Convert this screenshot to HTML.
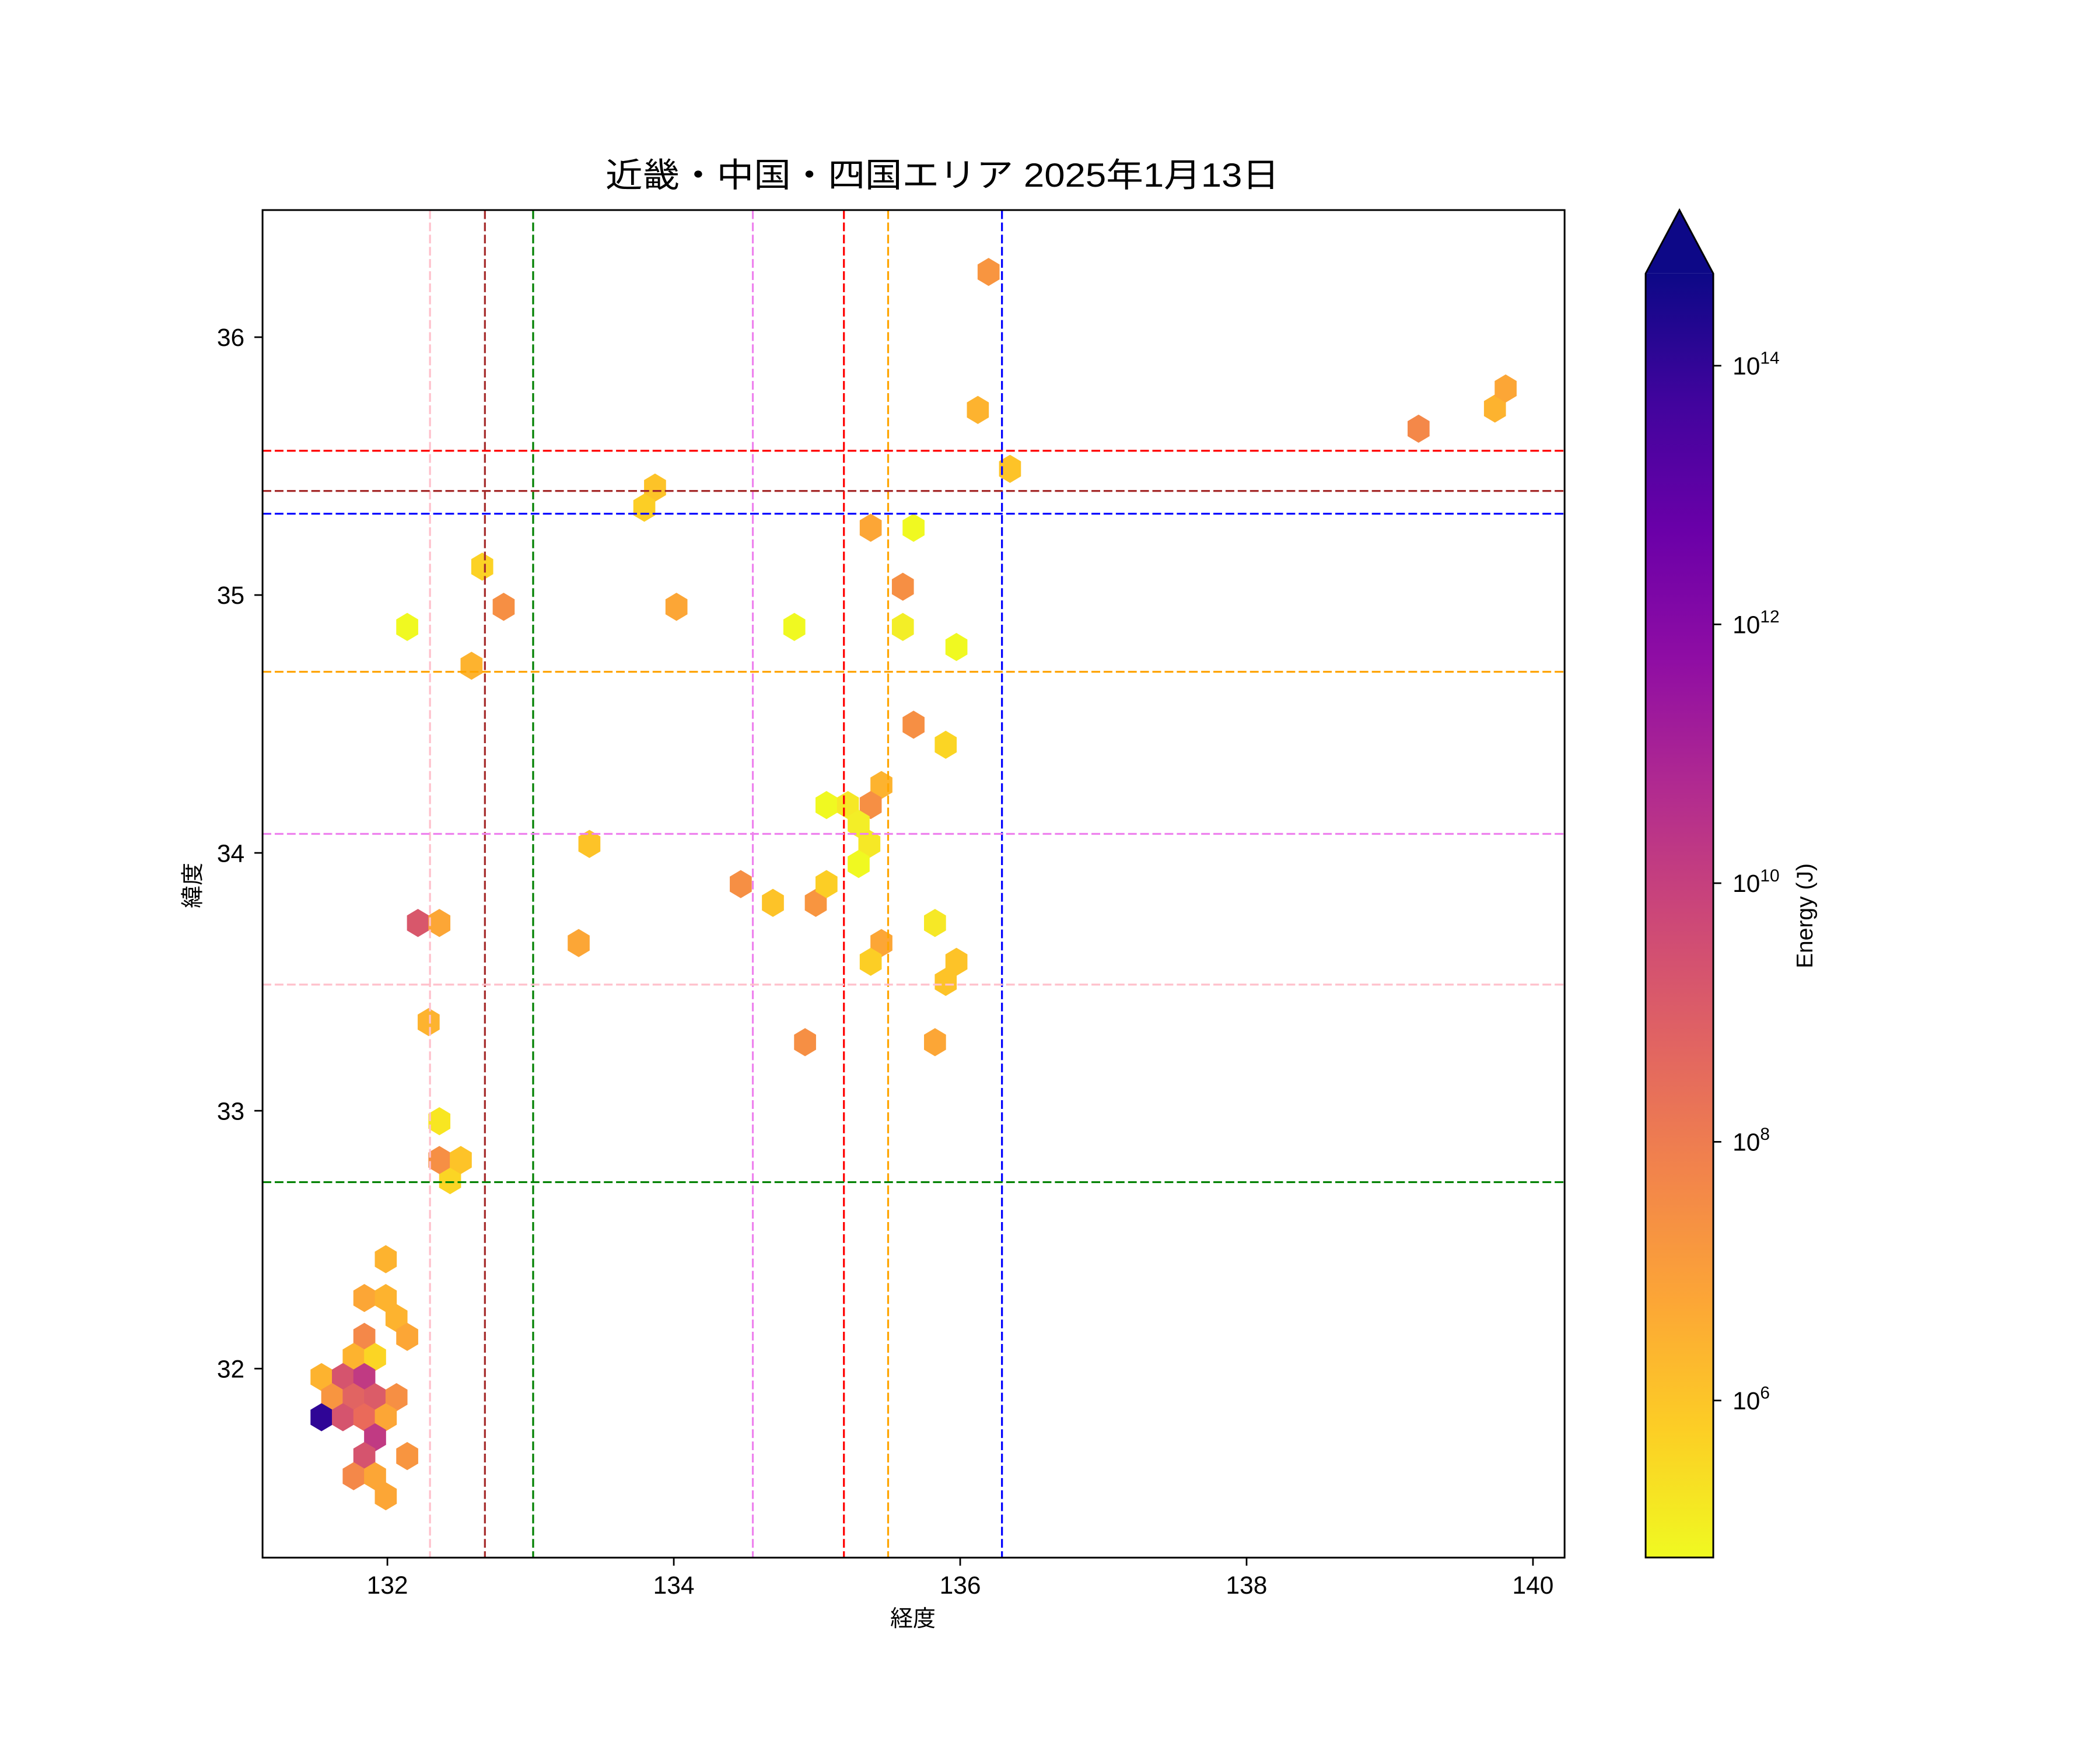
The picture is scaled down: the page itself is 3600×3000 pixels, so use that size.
<!DOCTYPE html>
<html><head><meta charset="utf-8"><style>html,body{margin:0;padding:0;background:#fff}svg{display:block}</style></head>
<body>
<svg xmlns="http://www.w3.org/2000/svg" xmlns:xlink="http://www.w3.org/1999/xlink" width="3600" height="3000" viewBox="0 0 1567.7 1306.4">
<defs>
<path id="h" d="M0,-10.5 L8.2,-5.6 L8.2,5.6 L0,10.5 L-8.2,5.6 L-8.2,-5.6 Z"/>
<linearGradient id="cb" x1="0" y1="1" x2="0" y2="0">
<stop offset="0" stop-color="#f0f921"/><stop offset="0.1" stop-color="#fcce25"/><stop offset="0.2" stop-color="#fca636"/><stop offset="0.3" stop-color="#f2844b"/><stop offset="0.4" stop-color="#e16462"/><stop offset="0.5" stop-color="#cc4778"/><stop offset="0.6" stop-color="#b12a90"/><stop offset="0.7" stop-color="#8f0da4"/><stop offset="0.8" stop-color="#6a00a8"/><stop offset="0.9" stop-color="#41049d"/><stop offset="1" stop-color="#0d0887"/>
</linearGradient>
</defs>
<rect width="1567.7" height="1306.4" fill="#fff"/>
<g font-family="Liberation Sans, Noto Sans CJK JP, sans-serif">
<text x="452" y="139.4" font-size="25" textLength="503" lengthAdjust="spacingAndGlyphs">近畿・中国・四国エリア 2025年1月13日</text>
</g>
<!-- hexes -->
<g>
<use xlink:href="#h" x="738" y="203" fill="#f89540"/>
<use xlink:href="#h" x="730" y="306" fill="#fdb32f"/>
<use xlink:href="#h" x="754" y="350" fill="#fdc328"/>
<use xlink:href="#h" x="1059" y="320" fill="#f48849"/>
<use xlink:href="#h" x="1116" y="305" fill="#fdb32f"/>
<use xlink:href="#h" x="1124" y="290" fill="#fca636"/>
<use xlink:href="#h" x="489" y="364" fill="#fdc328"/>
<use xlink:href="#h" x="481" y="379" fill="#fcce25"/>
<use xlink:href="#h" x="360" y="423" fill="#fcd225"/>
<use xlink:href="#h" x="376" y="453" fill="#f68f44"/>
<use xlink:href="#h" x="304" y="468" fill="#f0f921"/>
<use xlink:href="#h" x="352" y="497" fill="#fdb32f"/>
<use xlink:href="#h" x="505" y="453" fill="#fca636"/>
<use xlink:href="#h" x="650" y="394" fill="#fca636"/>
<use xlink:href="#h" x="682" y="394" fill="#f0f921"/>
<use xlink:href="#h" x="674" y="438" fill="#f68f44"/>
<use xlink:href="#h" x="674" y="468" fill="#f3ee27"/>
<use xlink:href="#h" x="714" y="483" fill="#f0f921"/>
<use xlink:href="#h" x="682" y="541" fill="#f68f44"/>
<use xlink:href="#h" x="706" y="556" fill="#fbd524"/>
<use xlink:href="#h" x="593" y="468" fill="#f0f921"/>
<use xlink:href="#h" x="658" y="586" fill="#fdb32f"/>
<use xlink:href="#h" x="617" y="601" fill="#f0f921"/>
<use xlink:href="#h" x="633" y="601" fill="#f6e826"/>
<use xlink:href="#h" x="650" y="601" fill="#f68f44"/>
<use xlink:href="#h" x="641" y="615" fill="#f3ee27"/>
<use xlink:href="#h" x="649" y="630" fill="#f6e826"/>
<use xlink:href="#h" x="641" y="645" fill="#f0f921"/>
<use xlink:href="#h" x="440" y="630" fill="#fdc328"/>
<use xlink:href="#h" x="553" y="660" fill="#f68f44"/>
<use xlink:href="#h" x="577" y="674" fill="#fdc328"/>
<use xlink:href="#h" x="609" y="674" fill="#f89540"/>
<use xlink:href="#h" x="617" y="660" fill="#fcce25"/>
<use xlink:href="#h" x="698" y="689" fill="#f6e826"/>
<use xlink:href="#h" x="714" y="718" fill="#fdc328"/>
<use xlink:href="#h" x="706" y="733" fill="#fdc328"/>
<use xlink:href="#h" x="658" y="704" fill="#fca636"/>
<use xlink:href="#h" x="650" y="718" fill="#fcce25"/>
<use xlink:href="#h" x="432" y="704" fill="#fca636"/>
<use xlink:href="#h" x="312" y="689" fill="#d8576b"/>
<use xlink:href="#h" x="328" y="689" fill="#fca636"/>
<use xlink:href="#h" x="320" y="763" fill="#fdb32f"/>
<use xlink:href="#h" x="601" y="778" fill="#f68f44"/>
<use xlink:href="#h" x="698" y="778" fill="#fca636"/>
<use xlink:href="#h" x="328" y="837" fill="#f8e621"/>
<use xlink:href="#h" x="336" y="881" fill="#fbd524"/>
<use xlink:href="#h" x="328" y="866" fill="#f68f44"/>
<use xlink:href="#h" x="344" y="866" fill="#fdc328"/>
<use xlink:href="#h" x="288" y="940" fill="#fdb32f"/>
<use xlink:href="#h" x="272" y="969" fill="#fca636"/>
<use xlink:href="#h" x="288" y="969" fill="#fdb32f"/>
<use xlink:href="#h" x="296" y="984" fill="#fdb32f"/>
<use xlink:href="#h" x="272" y="998" fill="#f48849"/>
<use xlink:href="#h" x="304" y="998" fill="#fca636"/>
<use xlink:href="#h" x="264" y="1013" fill="#fdb32f"/>
<use xlink:href="#h" x="280" y="1013" fill="#fbd524"/>
<use xlink:href="#h" x="240" y="1028" fill="#fdb32f"/>
<use xlink:href="#h" x="256" y="1028" fill="#d5546e"/>
<use xlink:href="#h" x="272" y="1028" fill="#c03a83"/>
<use xlink:href="#h" x="248" y="1043" fill="#f89540"/>
<use xlink:href="#h" x="264" y="1043" fill="#e16462"/>
<use xlink:href="#h" x="280" y="1043" fill="#db5c68"/>
<use xlink:href="#h" x="296" y="1043" fill="#f68f44"/>
<use xlink:href="#h" x="240" y="1058" fill="#2f0596"/>
<use xlink:href="#h" x="256" y="1058" fill="#d5546e"/>
<use xlink:href="#h" x="272" y="1058" fill="#ea6a5a"/>
<use xlink:href="#h" x="288" y="1058" fill="#fca636"/>
<use xlink:href="#h" x="280" y="1073" fill="#c03a83"/>
<use xlink:href="#h" x="272" y="1087" fill="#d5546e"/>
<use xlink:href="#h" x="304" y="1087" fill="#f89540"/>
<use xlink:href="#h" x="264" y="1102" fill="#f48849"/>
<use xlink:href="#h" x="280" y="1102" fill="#fca636"/>
<use xlink:href="#h" x="288" y="1117" fill="#fca636"/>
</g>
<!-- dashed lines -->
<g stroke-width="1.4" stroke-dasharray="6.5,2.6" fill="none">
<line x1="321" y1="157" x2="321" y2="1163" stroke="pink"/>
<line x1="362" y1="157" x2="362" y2="1163" stroke="#a52a2a"/>
<line x1="398" y1="157" x2="398" y2="1163" stroke="green"/>
<line x1="562" y1="157" x2="562" y2="1163" stroke="violet"/>
<line x1="630" y1="157" x2="630" y2="1163" stroke="red"/>
<line x1="663" y1="157" x2="663" y2="1163" stroke="orange"/>
<line x1="748" y1="157" x2="748" y2="1163" stroke="blue"/>
<line x1="196" y1="336.5" x2="1168" y2="336.5" stroke="red"/>
<line x1="196" y1="366.5" x2="1168" y2="366.5" stroke="#a52a2a"/>
<line x1="196" y1="383.5" x2="1168" y2="383.5" stroke="blue"/>
<line x1="196" y1="501.5" x2="1168" y2="501.5" stroke="orange"/>
<line x1="196" y1="622.5" x2="1168" y2="622.5" stroke="violet"/>
<line x1="196" y1="735" x2="1168" y2="735" stroke="pink"/>
<line x1="196" y1="882.5" x2="1168" y2="882.5" stroke="green"/>
</g>
<!-- axes -->
<rect x="196" y="156.8" width="972" height="1006" fill="none" stroke="#000" stroke-width="1.3"/>
<g stroke="#000" stroke-width="1.2">
<line x1="289.2" y1="1162.7" x2="289.2" y2="1168.8"/>
<line x1="503" y1="1162.7" x2="503" y2="1168.8"/>
<line x1="716.8" y1="1162.7" x2="716.8" y2="1168.8"/>
<line x1="930.6" y1="1162.7" x2="930.6" y2="1168.8"/>
<line x1="1144.4" y1="1162.7" x2="1144.4" y2="1168.8"/>
<line x1="189.9" y1="251.7" x2="196" y2="251.7"/>
<line x1="189.9" y1="444.2" x2="196" y2="444.2"/>
<line x1="189.9" y1="636.7" x2="196" y2="636.7"/>
<line x1="189.9" y1="829.2" x2="196" y2="829.2"/>
<line x1="189.9" y1="1021.7" x2="196" y2="1021.7"/>
</g>
<g font-family="Liberation Sans, Noto Sans CJK JP, sans-serif" font-size="18.5" fill="#000">
<g text-anchor="middle">
<text x="289.2" y="1189.7">132</text>
<text x="503" y="1189.7">134</text>
<text x="716.8" y="1189.7">136</text>
<text x="930.6" y="1189.7">138</text>
<text x="1144.4" y="1189.7">140</text>
<text x="681.5" y="1214" font-size="17">経度</text>
</g>
<g text-anchor="end">
<text x="182.5" y="258.3">36</text>
<text x="182.5" y="450.8">35</text>
<text x="182.5" y="643.3">34</text>
<text x="182.5" y="835.8">33</text>
<text x="182.5" y="1028.3">32</text>
</g>
<text transform="translate(149.5,661) rotate(-90)" text-anchor="middle" font-size="17">緯度</text>
<text transform="translate(1353,683.7) rotate(-90)" text-anchor="middle" font-size="17">Energy (J)</text>
</g>
<!-- colorbar -->
<rect x="1228.5" y="204.2" width="50.5" height="958.5" fill="url(#cb)"/>
<path d="M1228.5,204.2 L1253.75,156.8 L1279,204.2 Z" fill="#0d0887"/>
<path d="M1228.5,1162.7 L1228.5,204.2 L1253.75,156.8 L1279,204.2 L1279,1162.7 Z" fill="none" stroke="#000" stroke-width="1.3"/>
<g stroke="#000" stroke-width="1.2">
<line x1="1279" y1="273" x2="1285" y2="273"/>
<line x1="1279" y1="466.1" x2="1285" y2="466.1"/>
<line x1="1279" y1="659.3" x2="1285" y2="659.3"/>
<line x1="1279" y1="852.4" x2="1285" y2="852.4"/>
<line x1="1279" y1="1045.5" x2="1285" y2="1045.5"/>
</g>
<g font-family="Liberation Sans, sans-serif" font-size="18.5" fill="#000">
<text x="1293.4" y="279.6">10<tspan font-size="13" dy="-8">14</tspan></text>
<text x="1293.4" y="472.7">10<tspan font-size="13" dy="-8">12</tspan></text>
<text x="1293.4" y="665.9">10<tspan font-size="13" dy="-8">10</tspan></text>
<text x="1293.4" y="859">10<tspan font-size="13" dy="-8">8</tspan></text>
<text x="1293.4" y="1052.1">10<tspan font-size="13" dy="-8">6</tspan></text>
</g>
</svg>
</body></html>
